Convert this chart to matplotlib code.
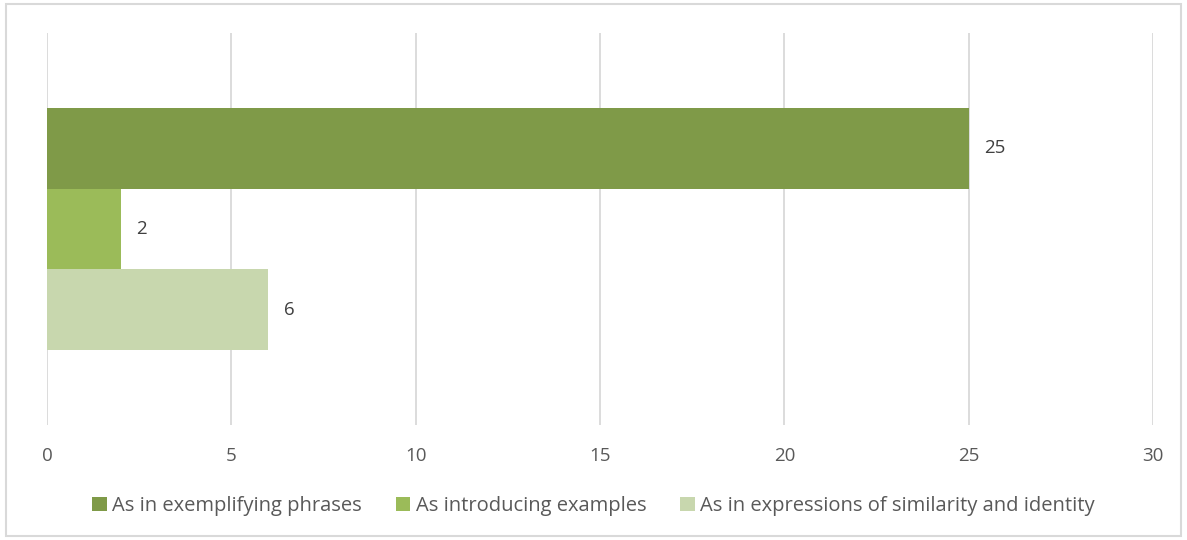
import matplotlib.pyplot as plt
from matplotlib.patches import Rectangle

plt.rcParams['font.family'] = ['Open Sans', 'DejaVu Sans']

series = ["As in exemplifying phrases", "As introducing examples",
          "As in expressions of similarity and identity"]
counts = [25, 2, 6]
colors = ["#7F9A48", "#9BBB59", "#C8D7AE"]
x_ticks = [0, 5, 10, 15, 20, 25, 30]

fig = plt.figure(figsize=(11.87, 5.40), dpi=100)
ax = fig.add_axes([47 / 1187, 1 - 425 / 540, (1153 - 47) / 1187, (425 - 33) / 540])

bar_h = 0.2054
offsets = [bar_h, 0, -bar_h]
for name, val, col, off in zip(series, counts, colors, offsets):
    ax.barh(off, val, height=bar_h, color=col, label=name, zorder=2)
    ax.text(val + 0.42, off, str(val), va="center", ha="left",
            fontsize=13.5, color="#404040")

ax.set_xlim(0, 30)
ax.set_ylim(-0.5, 0.5)
ax.set_xticks(x_ticks)
ax.set_yticks([])
ax.grid(axis="x", color="#D9D9D9", linewidth=1.3, zorder=0)
ax.tick_params(axis="x", length=0, pad=16, labelsize=13.5, labelcolor="#595959")
for s in ax.spines.values():
    s.set_visible(False)

leg = fig.legend(loc="center", bbox_to_anchor=(0.5, 1 - 506 / 540), ncol=3,
                 frameon=False, fontsize=14.5, handlelength=0.72, handleheight=0.72,
                 handletextpad=0.25, columnspacing=1.7)
for t in leg.get_texts():
    t.set_color("#595959")

# outer chart border
fig.patches.append(Rectangle((6 / 1187, 4 / 540), 1 - 12 / 1187, 1 - 8 / 540,
                             transform=fig.transFigure, fill=False,
                             edgecolor="#D9D9D9", linewidth=1.5))

fig.savefig("out.png", dpi=100)
